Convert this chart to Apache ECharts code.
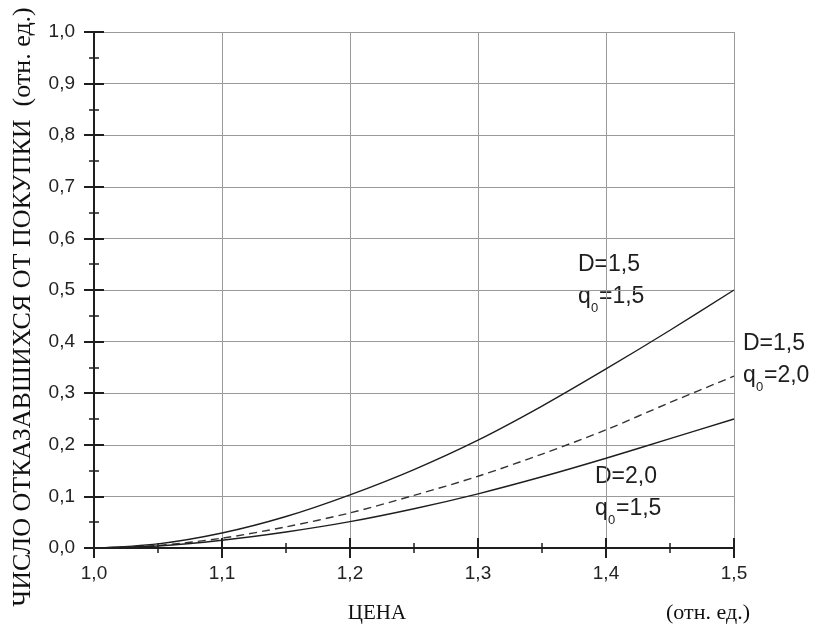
<!DOCTYPE html>
<html>
<head>
<meta charset="utf-8">
<script src="https://cdn.jsdelivr.net/npm/echarts@6/dist/echarts.min.js"></script>
<style>
html,body{margin:0;padding:0;background:#fff;}
#chart{width:813px;height:635px;}
</style>
</head>
<body>
<div id="chart"></div>
<script>
// Price (relative units)
const xValues = [1.00, 1.05, 1.10, 1.15, 1.20, 1.25, 1.30, 1.35, 1.40, 1.45, 1.50];
// D=1,5  q0=1,5 (solid, upper)
const seriesD15q15 = [0, 0.008, 0.029, 0.061, 0.103, 0.152, 0.209, 0.275, 0.347, 0.422, 0.500];
// D=1,5  q0=2,0 (dashed)
const seriesD15q20 = [0, 0.005, 0.019, 0.041, 0.068, 0.102, 0.139, 0.182, 0.229, 0.282, 0.333];
// D=2,0  q0=1,5 (solid, lower)
const seriesD20q15 = [0, 0.004, 0.015, 0.031, 0.051, 0.076, 0.105, 0.138, 0.174, 0.212, 0.250];

const yTitle = 'ЧИСЛО ОТКАЗАВШИХСЯ ОТ ПОКУПКИ  (отн. ед.)';
const xTitle = 'ЦЕНА';
const xUnit = '(отн. ед.)';

const pairs = arr => xValues.map((x, i) => [x, arr[i]]);
const fmt = v => v.toFixed(1).replace('.', ',');

const ink = '#1e1e1e';
const sans = '"Liberation Sans", Arial, sans-serif';
const serif = '"Liberation Serif", "Times New Roman", serif';

function label(x, y, line1, qRest) {
  return {
    type: 'group',
    children: [
      {type: 'text', x: x, y: y, style: {text: line1, font: '23px ' + sans, fill: ink, textVerticalAlign: 'middle'}},
      {type: 'text', x: x, y: y + 32, style: {text: 'q', font: '23px ' + sans, fill: ink, textVerticalAlign: 'middle'}},
      {type: 'text', x: x + 13, y: y + 43, style: {text: '0', font: '13px ' + sans, fill: ink, textVerticalAlign: 'middle'}},
      {type: 'text', x: x + 21, y: y + 32, style: {text: qRest, font: '23px ' + sans, fill: ink, textVerticalAlign: 'middle'}}
    ]
  };
}

const chart = echarts.init(document.getElementById('chart'));
const baseX = {type: 'value', min: 1.0, max: 1.5, interval: 0.1, gridIndex: 0, position: 'bottom'};
const baseY = {type: 'value', min: 0, max: 1.0, interval: 0.1, gridIndex: 0, position: 'left'};

chart.setOption({
  backgroundColor: '#fff',
  animation: false,
  grid: {left: 94, right: 79, top: 32, bottom: 87},
  xAxis: [
    Object.assign({}, baseX, {
      axisLine: {show: true, lineStyle: {color: ink, width: 2}},
      axisTick: {show: true, inside: false, length: 10, lineStyle: {color: ink, width: 2}},
      minorTick: {show: true, splitNumber: 2, length: 5, lineStyle: {color: ink, width: 1.5}},
      axisLabel: {margin: 16, color: '#222', fontSize: 19, fontFamily: sans, formatter: fmt},
      splitLine: {show: true, lineStyle: {color: '#9a9a9a', width: 1}}
    }),
    Object.assign({}, baseX, {
      axisLine: {show: false},
      axisTick: {show: true, inside: true, length: 10, lineStyle: {color: ink, width: 2}},
      minorTick: {show: true, splitNumber: 2, length: 5, lineStyle: {color: ink, width: 1.5}},
      axisLabel: {show: false},
      splitLine: {show: false}
    })
  ],
  yAxis: [
    Object.assign({}, baseY, {
      axisLine: {show: true, lineStyle: {color: ink, width: 2}},
      axisTick: {show: true, inside: false, length: 10, lineStyle: {color: ink, width: 2}},
      minorTick: {show: true, splitNumber: 2, length: 5, lineStyle: {color: ink, width: 1.5}},
      axisLabel: {margin: 19, color: '#222', fontSize: 19, fontFamily: sans, formatter: fmt},
      splitLine: {show: true, lineStyle: {color: '#9a9a9a', width: 1}}
    }),
    Object.assign({}, baseY, {
      axisLine: {show: false},
      axisTick: {show: true, inside: true, length: 10, lineStyle: {color: ink, width: 2}},
      minorTick: {show: true, splitNumber: 2, length: 5, lineStyle: {color: ink, width: 1.5}},
      axisLabel: {show: false},
      splitLine: {show: false}
    })
  ],
  series: [
    {type: 'line', name: 'D=1,5 q0=1,5', data: pairs(seriesD15q15), smooth: 0.3, symbol: 'none',
     lineStyle: {color: ink, width: 1.4, type: 'solid'}},
    {type: 'line', name: 'D=1,5 q0=2,0', data: pairs(seriesD15q20), smooth: 0.3, symbol: 'none',
     lineStyle: {color: '#333', width: 1.4, type: [8, 5]}},
    {type: 'line', name: 'D=2,0 q0=1,5', data: pairs(seriesD20q15), smooth: 0.3, symbol: 'none',
     lineStyle: {color: ink, width: 1.4, type: 'solid'}}
  ],
  graphic: [
    {type: 'text', x: 23, y: 307, rotation: Math.PI / 2,
     style: {text: yTitle, font: '26px ' + serif, fill: '#111', textAlign: 'center', textVerticalAlign: 'middle'}},
    {type: 'text', x: 377, y: 613,
     style: {text: xTitle, font: '21px ' + serif, fill: '#111', textAlign: 'center', textVerticalAlign: 'middle'}},
    {type: 'text', x: 708, y: 613,
     style: {text: xUnit, font: '22px ' + serif, fill: '#111', textAlign: 'center', textVerticalAlign: 'middle'}},
    label(578, 265, 'D=1,5', '=1,5'),
    label(743, 344, 'D=1,5', '=2,0'),
    label(595, 477, 'D=2,0', '=1,5')
  ]
});
</script>
</body>
</html>
